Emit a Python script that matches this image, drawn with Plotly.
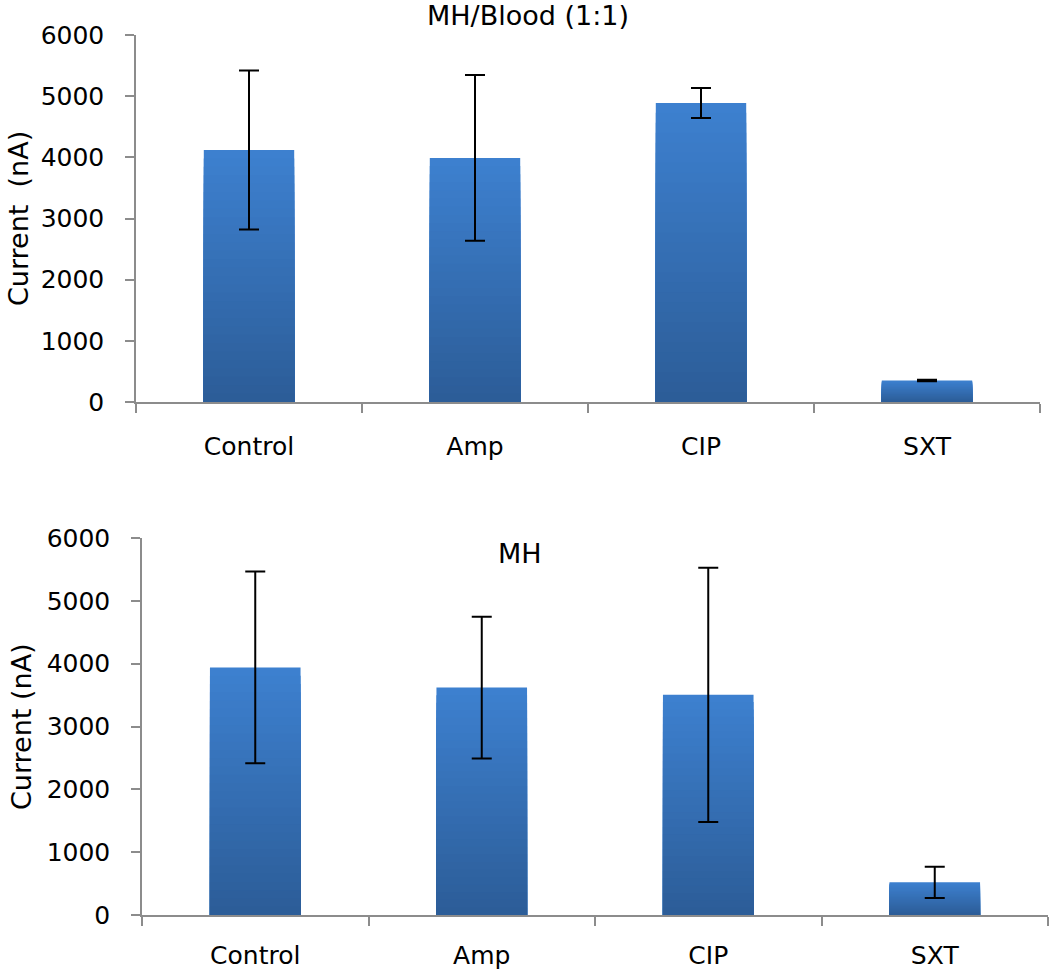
import plotly.graph_objects as go

categories = ["Control", "Amp", "CIP", "SXT"]

# MH/Blood (1:1)
blood_values = [4120, 3990, 4890, 350]
blood_errors = [1300, 1355, 245, 12]

# MH
mh_values = [3940, 3620, 3505, 520]
mh_errors = [1525, 1128, 2023, 249]

y_ticks = [0, 1000, 2000, 3000, 4000, 5000, 6000]

W, H = 1050, 976
FONT = "DejaVu Sans"
TOP_COLOR = (61, 128, 207)
BOTTOM_COLOR = (44, 93, 152)
N_SLICES = 30

fig = go.Figure()


def lerp(c1, c2, t):
    return "rgb(%d,%d,%d)" % tuple(round(a + (b - a) * t) for a, b in zip(c1, c2))


def add_panel(values, errors, xa, ya):
    # gradient bars: overlayed bars of decreasing height, lighter on top
    for k in range(N_SLICES):
        frac = (N_SLICES - k) / N_SLICES
        fig.add_trace(go.Bar(
            x=categories, y=[v * frac for v in values],
            marker=dict(color=lerp(TOP_COLOR, BOTTOM_COLOR, k / (N_SLICES - 1)),
                        line=dict(width=0)),
            width=0.4, xaxis=xa, yaxis=ya, showlegend=False, hoverinfo="skip",
        ))
    fig.add_trace(go.Scatter(
        x=categories, y=values, mode="markers",
        marker=dict(size=1, color="rgba(0,0,0,0)"),
        error_y=dict(type="data", array=errors, color="black", thickness=2, width=10),
        xaxis=xa, yaxis=ya, showlegend=False,
    ))


add_panel(blood_values, blood_errors, "x", "y")
add_panel(mh_values, mh_errors, "x2", "y2")

axis_line = "#8c8c8c"
xcommon = dict(
    type="category", range=[-0.5, 3.5], showline=True, linecolor=axis_line, linewidth=1.5,
    ticks="outside", tickson="boundaries", ticklen=9, tickcolor=axis_line, tickwidth=1.5,
    showgrid=False, zeroline=False, tickfont=dict(family=FONT, size=25, color="black"),
    automargin=False,
)
ycommon = dict(
    range=[0, 6000], tickvals=y_ticks, showline=True, linecolor=axis_line, linewidth=1.5,
    ticks="outside", ticklen=9, tickcolor=axis_line, tickwidth=1.5, showgrid=False,
    zeroline=False, tickfont=dict(family=FONT, size=25, color="black"), ticklabelstandoff=16,
    automargin=False,
)

fig.update_layout(
    width=W, height=H, margin=dict(l=0, r=0, t=0, b=0),
    paper_bgcolor="white", plot_bgcolor="white", barmode="overlay",
    xaxis=dict(domain=[136 / W, 1040 / W], anchor="y", ticklabelstandoff=21, **xcommon),
    yaxis=dict(domain=[1 - 402 / H, 1 - 35 / H], anchor="x", **ycommon),
    xaxis2=dict(domain=[142 / W, 1048 / W], anchor="y2", ticklabelstandoff=17, **xcommon),
    yaxis2=dict(domain=[1 - 915 / H, 1 - 538 / H], anchor="x2", **ycommon),
    annotations=[
        dict(text="MH/Blood (1:1)", x=528 / W, y=1 - 15 / H, xref="paper", yref="paper",
             xanchor="center", yanchor="middle", showarrow=False,
             font=dict(family=FONT, size=27, color="black")),
        dict(text="MH", x=520 / W, y=1 - 553 / H, xref="paper", yref="paper",
             xanchor="center", yanchor="middle", showarrow=False,
             font=dict(family=FONT, size=27, color="black")),
        dict(text="Current  (nA)", x=18 / W, y=1 - 219 / H, xref="paper", yref="paper",
             xanchor="center", yanchor="middle", showarrow=False, textangle=-90,
             font=dict(family=FONT, size=27, color="black")),
        dict(text="Current (nA)", x=21 / W, y=1 - 727 / H, xref="paper", yref="paper",
             xanchor="center", yanchor="middle", showarrow=False, textangle=-90,
             font=dict(family=FONT, size=27, color="black")),
    ],
)

fig.write_html("out.html", config={"displayModeBar": False},
               post_script="document.body.style.margin='0';")
